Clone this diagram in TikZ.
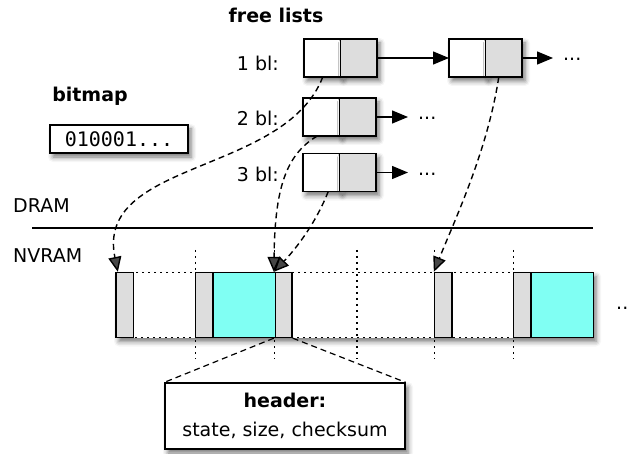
\documentclass[tikz,border=0pt]{standalone}
\usepackage{fontspec}
\setmainfont{DejaVu Sans}
\setmonofont{DejaVu Sans Mono}
\usetikzlibrary{arrows.meta,shadows.blur}
\definecolor{hdrgray}{RGB}{221,221,221}
\definecolor{datacyan}{RGB}{128,255,243}

\begin{document}
\begin{tikzpicture}[x=1pt, y=-1pt,
  txt/.style={font=\fontsize{19}{29}\selectfont, inner sep=1pt},
  title/.style={txt, font=\fontsize{19}{29}\selectfont\bfseries},
  softshadow/.style={blur shadow={shadow xshift=3pt, shadow yshift=-4pt, shadow blur radius=5pt, shadow opacity=55}},
  slot/.style={draw, fill=white, line width=1.3pt, minimum width=36.5pt, minimum height=38pt,
    inner sep=0pt, outer sep=0pt, softshadow},
  link/.style={slot, fill=hdrgray},
  more/.style={txt, anchor=west, inner xsep=10pt, text height=0.55em, text depth=0pt},
  nextptr/.style={line width=1.3pt, -{Triangle[length=16pt,width=13pt]}},
  memptr/.style={line width=1.4pt, dash pattern=on 6pt off 4pt, -{Triangle[length=15pt,width=13pt]}},
  leader/.style={line width=1.2pt, dash pattern=on 6pt off 4pt},
  dotline/.style={line width=1.5pt, dash pattern=on 1.8pt off 4.2pt},
  hdr/.style={draw, fill=hdrgray, line width=1.3pt, minimum width=17.5pt, minimum height=65pt, inner sep=0pt},
  data/.style={draw, fill=datacyan, line width=1.3pt, minimum width=62pt, minimum height=65pt, inner sep=0pt}
]
\useasboundingbox (0,0) rectangle (629,454);

% free lists in DRAM
\node[title, anchor=base] (fltitle) at (276,23) {free lists};
\node[txt, anchor=base east] (lab1) at (280,71) {1 bl:};
\node[txt, anchor=base east] (lab2) at (280,126) {2 bl:};
\node[txt, anchor=base east] (lab3) at (280,182) {3 bl:};

\foreach \nm/\xc/\yc in {l1a/340.5/58, l1b/485.5/58, l2/339.5/117, l3/339.5/172.5} {
  \node[slot] (\nm) at (\xc-18.25,\yc) {};
  \node[link] (\nm-n) at (\xc+18.25,\yc) {};
}

\node[more] (m1) at (553,58) {...};
\node[more] (m2) at (408,117) {...};
\node[more] (m3) at (408,172.5) {...};

\draw[nextptr] (l1a-n.east) -- (l1b.west);
\draw[nextptr] (l1b-n.east) -- (m1.west);
\draw[nextptr] (l2-n.east) -- (m2.west);
\draw[nextptr] (l3-n.east) -- (m3.west);

% bitmap
\node[title, anchor=base] (bmtitle) at (90,102) {bitmap};
\node[draw, fill=white, line width=1.3pt, minimum width=138pt, minimum height=28pt,
  inner sep=0pt, softshadow, font=\fontsize{20}{24}\selectfont\ttfamily] (bits) at (119,139) {010001...};

% DRAM / NVRAM
\node[txt, anchor=base west] (dram) at (12,213) {DRAM};
\node[txt, anchor=base west] (nvram) at (12,263) {NVRAM};
\draw[line width=1.4pt] (32,228) -- (593,228);

\fill[white, softshadow] (116,272.5) rectangle (593,337.5);
\draw[dotline] (116,272.5) rectangle (593,337.5);
\foreach \xv in {195.5,274.5,357,434.5,513.5}
  \draw[dotline] (\xv,250) -- (\xv,359);

\foreach \n/\xl in {1/116,2/195.5,3/274.5,4/434.5,5/513.5}
  \node[hdr] (hb\n) at (\xl+8.75,305) {};
\node[data] (d2) at (244.25,305) {};
\node[data] (d5) at (562.25,305) {};
\node[more, inner xsep=0pt] (mnv) at (616,307) {...};

% pointers from the lists into NVRAM
\draw[memptr] ([xshift=0.5pt]l1a.south) .. controls +(-38,98) and +(-23,-112) .. ([xshift=2.5pt]hb1.north west);
\draw[memptr] ([xshift=-4pt]l2.south) .. controls +(-32,19) and +(1,-82) .. (hb3.north west);
\draw[memptr] ([xshift=7pt]l3.south) .. controls +(-13,33) and +(21,-22) .. (hb3.north west);
\draw[memptr] ([xshift=-5pt]l1b-n.south) .. controls +(-11,73) and +(21,-52) .. (hb4.north west);

% header callout
\node[draw, fill=white, line width=1.3pt, minimum width=240pt, minimum height=66pt,
  align=center, txt, softshadow] (hdrbox) at (285,416) {\textbf{header:}\\state, size, checksum};
\draw[leader] (hb3.south west) -- (hdrbox.north west);
\draw[leader] (hb3.south east) -- (hdrbox.north east);
\end{tikzpicture}
\end{document}
